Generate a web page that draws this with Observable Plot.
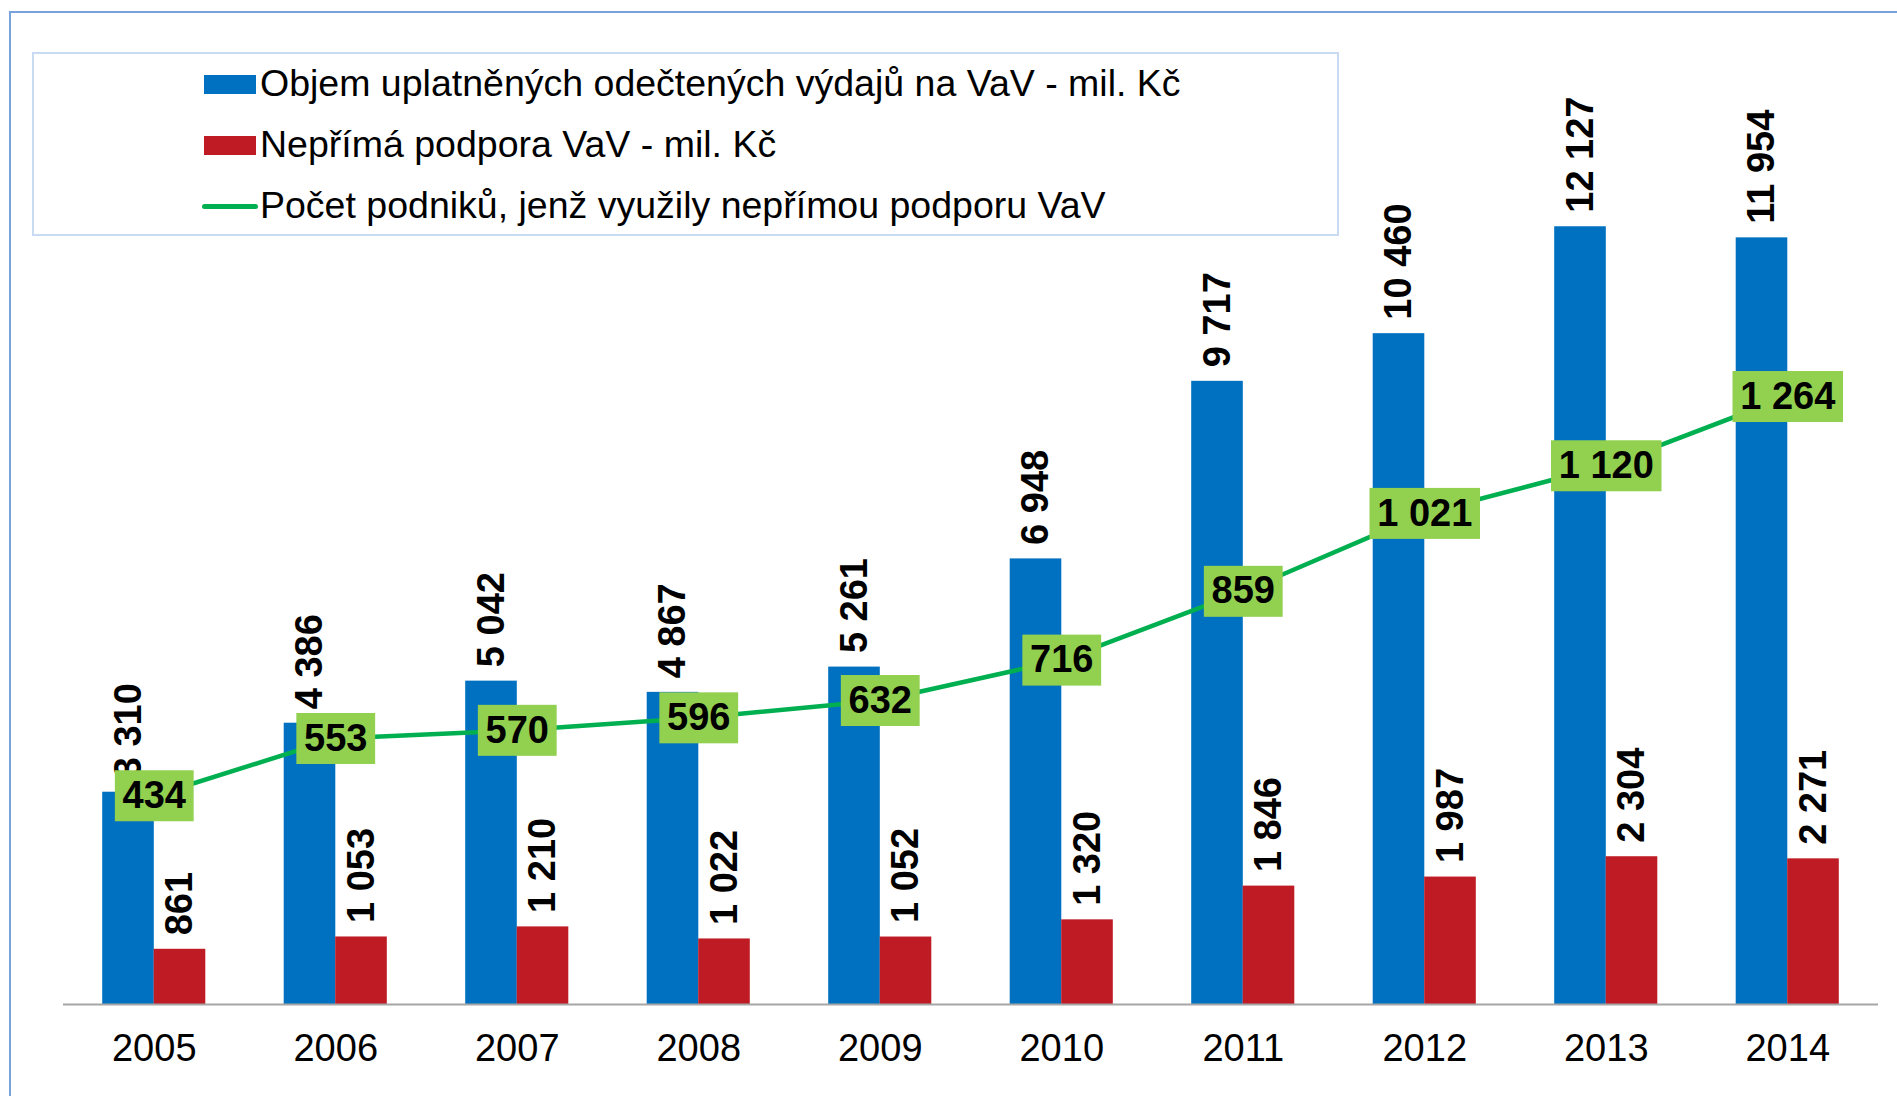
<!DOCTYPE html>
<html>
<head>
<meta charset="utf-8">
<script src="https://cdn.jsdelivr.net/npm/d3@7"></script>
<script src="https://cdn.jsdelivr.net/npm/@observablehq/plot@0.6"></script>
<style>
  html, body { margin: 0; padding: 0; background: #fff; overflow: hidden; }
  #wrap { position: relative; width: 1897px; height: 1096px; overflow: hidden;
          font-family: "Liberation Sans", Arial, sans-serif; }
  #frame { position: absolute; left: 9px; top: 11px; width: 3000px; height: 3000px;
           border-left: 2px solid #7AA3DD; border-top: 2px solid #7AA3DD; box-sizing: border-box; }
  #chart { position: absolute; left: 0; top: 0; }
  #legend { position: absolute; left: 32px; top: 52px; width: 1307px; height: 184px;
            border: 2px solid #C9DBF2; box-sizing: border-box; background: #fff; }
  .lg-text { position: absolute; font-size: 37.5px; line-height: 37.5px; color: #000; white-space: nowrap; }
  .lg-swatch { position: absolute; width: 52px; height: 19px; }
  .lg-line { position: absolute; width: 56px; height: 5px; border-radius: 3px; }
</style>
</head>
<body>
<div id="wrap">
  <div id="frame"></div>
  <div id="chart"></div>
  <div id="legend"></div>
</div>
<script>
// ---- data ----
const years = ["2005", "2006", "2007", "2008", "2009", "2010", "2011", "2012", "2013", "2014"];
const expenditure = [3310, 4386, 5042, 4867, 5261, 6948, 9717, 10460, 12127, 11954];
const indirectSupport = [861, 1053, 1210, 1022, 1052, 1320, 1846, 1987, 2304, 2271];
const firms = [434, 553, 570, 596, 632, 716, 859, 1021, 1120, 1264];
const seriesNames = [
  "Objem uplatněných odečtených výdajů na VaV - mil. Kč",
  "Nepřímá podpora VaV - mil. Kč",
  "Počet podniků, jenž využily nepřímou podporu VaV"
];
const seriesColors = ["#0070C0", "#BE1B24", "#00B050"];
const labelBoxColor = "#92D050";
const primaryMax = 15000;   // left (hidden) axis
const secondaryMax = 2000;  // right (hidden) axis for number of firms

// ---- table ----
const rows = years.map((year, i) => ({
  year,
  expenditure: expenditure[i],
  support: indirectSupport[i],
  firms: firms[i]
}));
const ratio = primaryMax / secondaryMax;
const fmt = v => d3.format(",")(v).replace(/,/g, "\u00a0");

const labelFont = 38;
const half = 51.5;

const chart = Plot.plot({
  width: 1897,
  height: 1096,
  marginTop: 42,
  marginBottom: 92,
  marginLeft: 63,
  marginRight: 19,
  style: { fontFamily: "'Liberation Sans', Arial, sans-serif", background: "transparent", overflow: "visible" },
  x: { type: "band", domain: years, paddingInner: 0.432, paddingOuter: 0.216, round: false, label: null },
  y: { domain: [0, primaryMax], axis: null },
  marks: [
    Plot.barY(rows, { x: "year", y: "expenditure", fill: seriesColors[0], insetRight: half }),
    Plot.barY(rows, { x: "year", y: "support", fill: seriesColors[1], insetLeft: half }),
    Plot.ruleY([0], { stroke: "#A6A6A6", strokeWidth: 2 }),
    Plot.axisX({ tickSize: 0, tickPadding: 30, fontSize: 38, label: null, fill: "#000" }),
    Plot.text(rows, { x: "year", y: "expenditure", text: d => fmt(d.expenditure), rotate: -90,
      textAnchor: "start", dx: -half / 2, dy: -14, fontWeight: "bold", fontSize: labelFont, fill: "#000" }),
    Plot.text(rows, { x: "year", y: "support", text: d => fmt(d.support), rotate: -90,
      textAnchor: "start", dx: half / 2, dy: -14, fontWeight: "bold", fontSize: labelFont, fill: "#000" }),
    Plot.lineY(rows, { x: "year", y: d => d.firms * ratio, stroke: seriesColors[2], strokeWidth: 4.5 }),
    Plot.text(rows, { x: "year", y: d => d.firms * ratio, text: d => fmt(d.firms),
      fontWeight: "bold", fontSize: labelFont, fill: "#000", className: "firm-labels" })
  ]
});
document.getElementById("chart").appendChild(chart);

// green boxes behind the firm-count labels, sized from the rendered text
(function addBoxes() {
  let g = chart.querySelector("g.firm-labels");
  if (!g) {
    const all = chart.querySelectorAll('g[aria-label="text"]');
    g = all[all.length - 1];
  }
  const texts = Array.from(g.querySelectorAll("text"));
  const ns = "http://www.w3.org/2000/svg";
  texts.forEach(t => {
    const bb = t.getBBox();
    const r = document.createElementNS(ns, "rect");
    const pad = 7.7;
    r.setAttribute("x", bb.x - pad);
    r.setAttribute("width", bb.width + 2 * pad);
    r.setAttribute("y", -25.5);
    r.setAttribute("height", 51);
    r.setAttribute("fill", labelBoxColor);
    const tr = t.getAttribute("transform");
    if (tr) r.setAttribute("transform", tr);
    g.insertBefore(r, t);
  });
})();

// ---- legend ----
const legend = document.getElementById("legend");
const rowTops = [63, 124, 185];
const markCenters = [82.5, 143.5, 204.5];
seriesNames.forEach((name, i) => {
  const m = document.createElement("div");
  if (i < 2) {
    m.className = "lg-swatch";
    m.style.top = (markCenters[i] - 9.5 - 52) + "px";
    m.style.left = (202 - 32) + "px";
  } else {
    m.className = "lg-line";
    m.style.top = (markCenters[i] - 2.5 - 52) + "px";
    m.style.left = (200 - 32) + "px";
  }
  m.style.background = seriesColors[i];
  legend.appendChild(m);
  const t = document.createElement("div");
  t.className = "lg-text";
  t.style.left = (258 - 32) + "px";
  t.style.top = (rowTops[i] - 52) + "px";
  t.textContent = name;
  legend.appendChild(t);
});
</script>
</body>
</html>
